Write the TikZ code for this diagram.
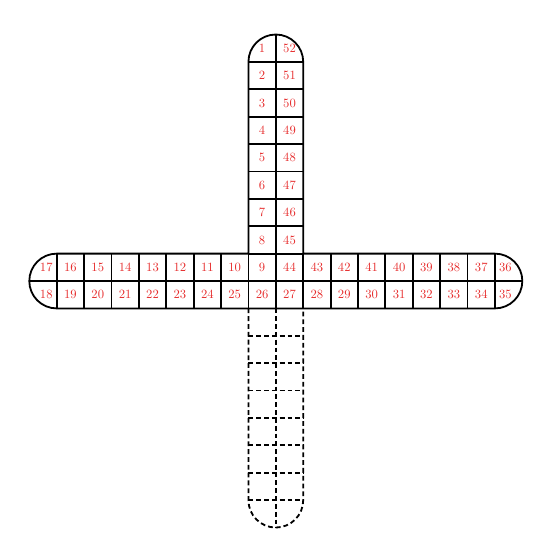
\documentclass[tikz,border=0pt]{standalone}
\usepackage{tikz}
\usepackage{amsmath}
\definecolor{numred}{RGB}{230,45,45}

\begin{document}
\begin{tikzpicture}[x=0.8cm, y=0.8cm, line width=1.5pt,
  num/.style={text=numred, font=\fontsize{10.5}{12}\selectfont, inner sep=1pt},
  dashline/.style={dash pattern=on 4pt off 2.5pt}]
\useasboundingbox (-10.07,-9.82) rectangle (9.635,10.26);
% outline of the cross:
\draw (-1,1) -- (-1,8) arc (180:0:1) -- (1,1) -- (8,1) arc (90:-90:1)
  -- (-8,-1) arc (270:90:1) -- cycle;
% solid grid:
\draw (0,-1) -- (0,9);
\draw (-9,0) -- (9,0);
\foreach \y in {1,...,8} \draw (-1,\y) -- (1,\y);
\foreach \x in {-8,...,8} \draw (\x,-1) -- (\x,1);
% lower arm (dashed):
\draw[dashline] (-1,-1) -- (-1,-8) arc (180:360:1) -- (1,-1);
\draw[dashline] (0,-1) -- (0,-9);
\foreach \y in {2,...,8} \draw[dashline] (-1,-\y) -- (1,-\y);
% upper arm numbers:
\foreach \i in {1,...,8} {
  \pgfmathtruncatemacro\j{53-\i}
  \node[num] (n\i) at (-0.5,9.5-\i) {\i};
  \node[num] (n\j) at (0.5,9.5-\i) {\j};
}
% left arm numbers:
\foreach \n in {9,...,16} \node[num] (n\n) at (8.5-\n,0.5) {\n};
\foreach \n in {19,...,26} \node[num] (n\n) at (\n-26.5,-0.5) {\n};
\node[num] (n17) at (-8.38,0.5) {17};
\node[num] (n18) at (-8.38,-0.5) {18};
% right arm numbers:
\foreach \n in {27,...,34} \node[num] (n\n) at (\n-26.5,-0.5) {\n};
\foreach \n in {37,...,44} \node[num] (n\n) at (44.5-\n,0.5) {\n};
\node[num] (n35) at (8.38,-0.5) {35};
\node[num] (n36) at (8.38,0.5) {36};
\end{tikzpicture}
\end{document}
